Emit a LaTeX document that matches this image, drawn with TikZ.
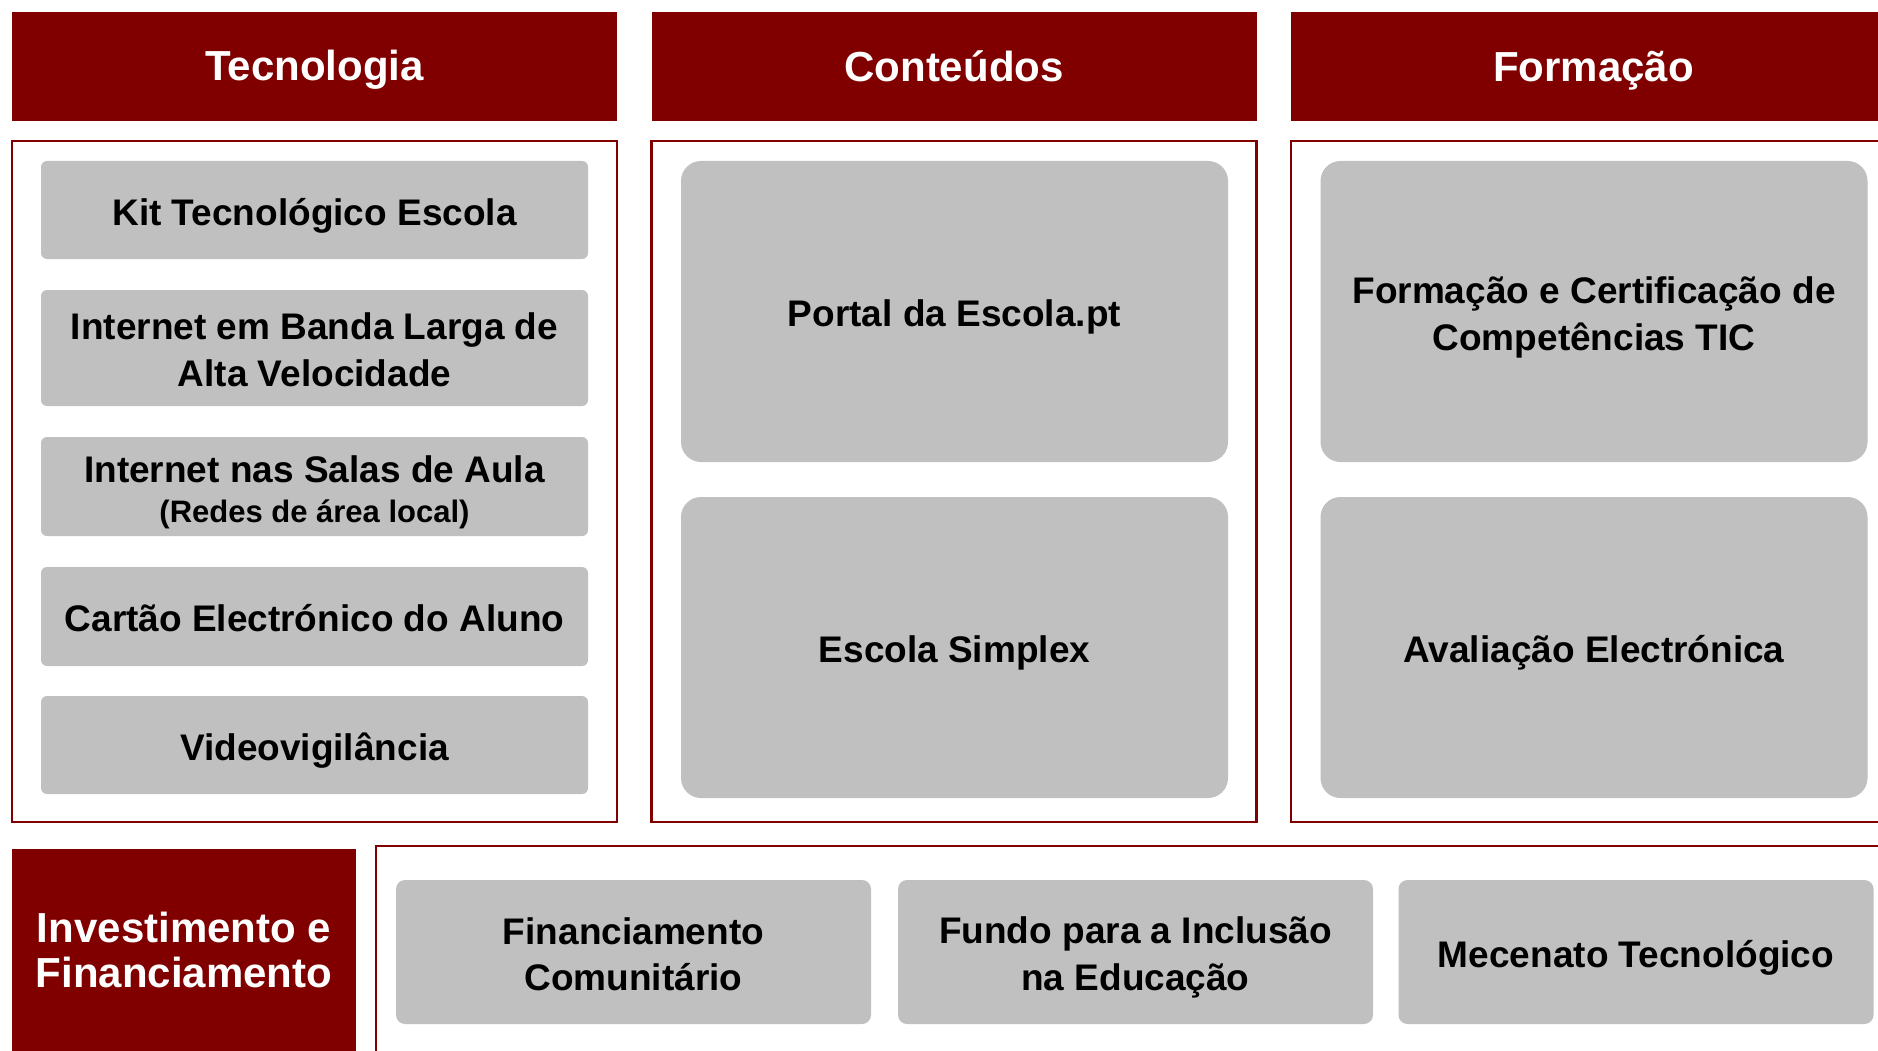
\documentclass[tikz,border=0pt]{standalone}
\usepackage{fontspec}
\setmainfont{Liberation Sans}
\usepackage{tikz}
\definecolor{darkred}{RGB}{128,0,0}
\definecolor{boxgrey}{RGB}{192,192,192}
\newcommand{\headstrut}{\rule[-7.75pt]{0pt}{45.5pt}}
\newcommand{\itemstrut}{\rule[-7.5pt]{0pt}{45.5pt}}
\begin{document}
\begin{tikzpicture}[x=1pt, y=-1pt,
    head/.style={fill=darkred, text=white, inner sep=0pt, align=center,
      font=\fontsize{42}{45.5}\selectfont\bfseries},
    frame/.style={draw=darkred, line width=2.5pt, inner sep=0pt},
    item/.style={fill=boxgrey, rounded corners=6pt, inner sep=0pt, align=center,
      font=\fontsize{37}{45.5}\selectfont\bfseries},
    bigitem/.style={item, rounded corners=20pt, minimum width=547pt, minimum height=301pt},
    lowitem/.style={item, rounded corners=9pt, minimum width=475pt, minimum height=144pt}]
    \useasboundingbox (0,0) rectangle (1878,1051);
    \fill[white] (0,0) rectangle (1878,1051);
    \clip (0,0) rectangle (1878,1051);

    \node[head, minimum width=605pt, minimum height=109pt] (tecnologia) at (314.5,66.5) {\headstrut Tecnologia};
    \node[head, minimum width=605pt, minimum height=109pt] (conteudos) at (954,66.5) {\headstrut Conteúdos};
    \node[head, minimum width=605pt, minimum height=109pt] (formacao) at (1593.5,66.5) {\headstrut Formação};

    \node[frame, minimum width=605pt, minimum height=681pt] (tecframe) at (314.5,481.5) {};
    \node[frame, minimum width=605pt, minimum height=681pt] (contframe) at (954,481.5) {};
    \node[frame, minimum width=605pt, minimum height=681pt] (formframe) at (1593.5,481.5) {};

    \begin{scope}[item/.append style={minimum width=547pt}]
      \node[item, minimum height=98pt] (kit) at (314.5,210) {\itemstrut Kit Tecnológico Escola};
      \node[item, minimum height=116pt] (banda) at (314.5,348) {\itemstrut Internet em Banda Larga de\\\itemstrut Alta Velocidade};
      \node[item, minimum height=99pt] (salas) at (314.5,486.5) {\itemstrut Internet nas Salas de Aula\\[-5pt]{\fontsize{31}{36}\selectfont (Redes de área local)}};
      \node[item, minimum height=99pt] (cartao) at (314.5,616.5) {\itemstrut Cartão Electrónico do Aluno};
      \node[item, minimum height=98pt] (video) at (314.5,745) {\itemstrut Videovigilância};
    \end{scope}

    \node[bigitem] (portal) at (954.5,311.5) {\itemstrut Portal da Escola.pt};
    \node[bigitem] (simplex) at (954.5,647.5) {\itemstrut Escola Simplex};
    \node[bigitem] (certificacao) at (1594,311.5) {\itemstrut Formação e Certificação de\\\itemstrut Competências TIC};
    \node[bigitem] (avaliacao) at (1594,647.5) {\itemstrut Avaliação Electrónica};

    \node[head, minimum width=344pt, minimum height=202pt] (investimento) at (184,950) {\headstrut Investimento e\\\headstrut Financiamento};
    \node[frame, minimum width=1524pt, minimum height=224pt] (lowframe) at (1138,958) {};

    \node[lowitem] (comunitario) at (633.5,952) {\itemstrut Financiamento\\\itemstrut Comunitário};
    \node[lowitem] (fundo) at (1135.5,952) {\itemstrut Fundo para a Inclusão\\\itemstrut na Educação};
    \node[lowitem] (mecenato) at (1636,952) {\itemstrut Mecenato Tecnológico};
\end{tikzpicture}
\end{document}
